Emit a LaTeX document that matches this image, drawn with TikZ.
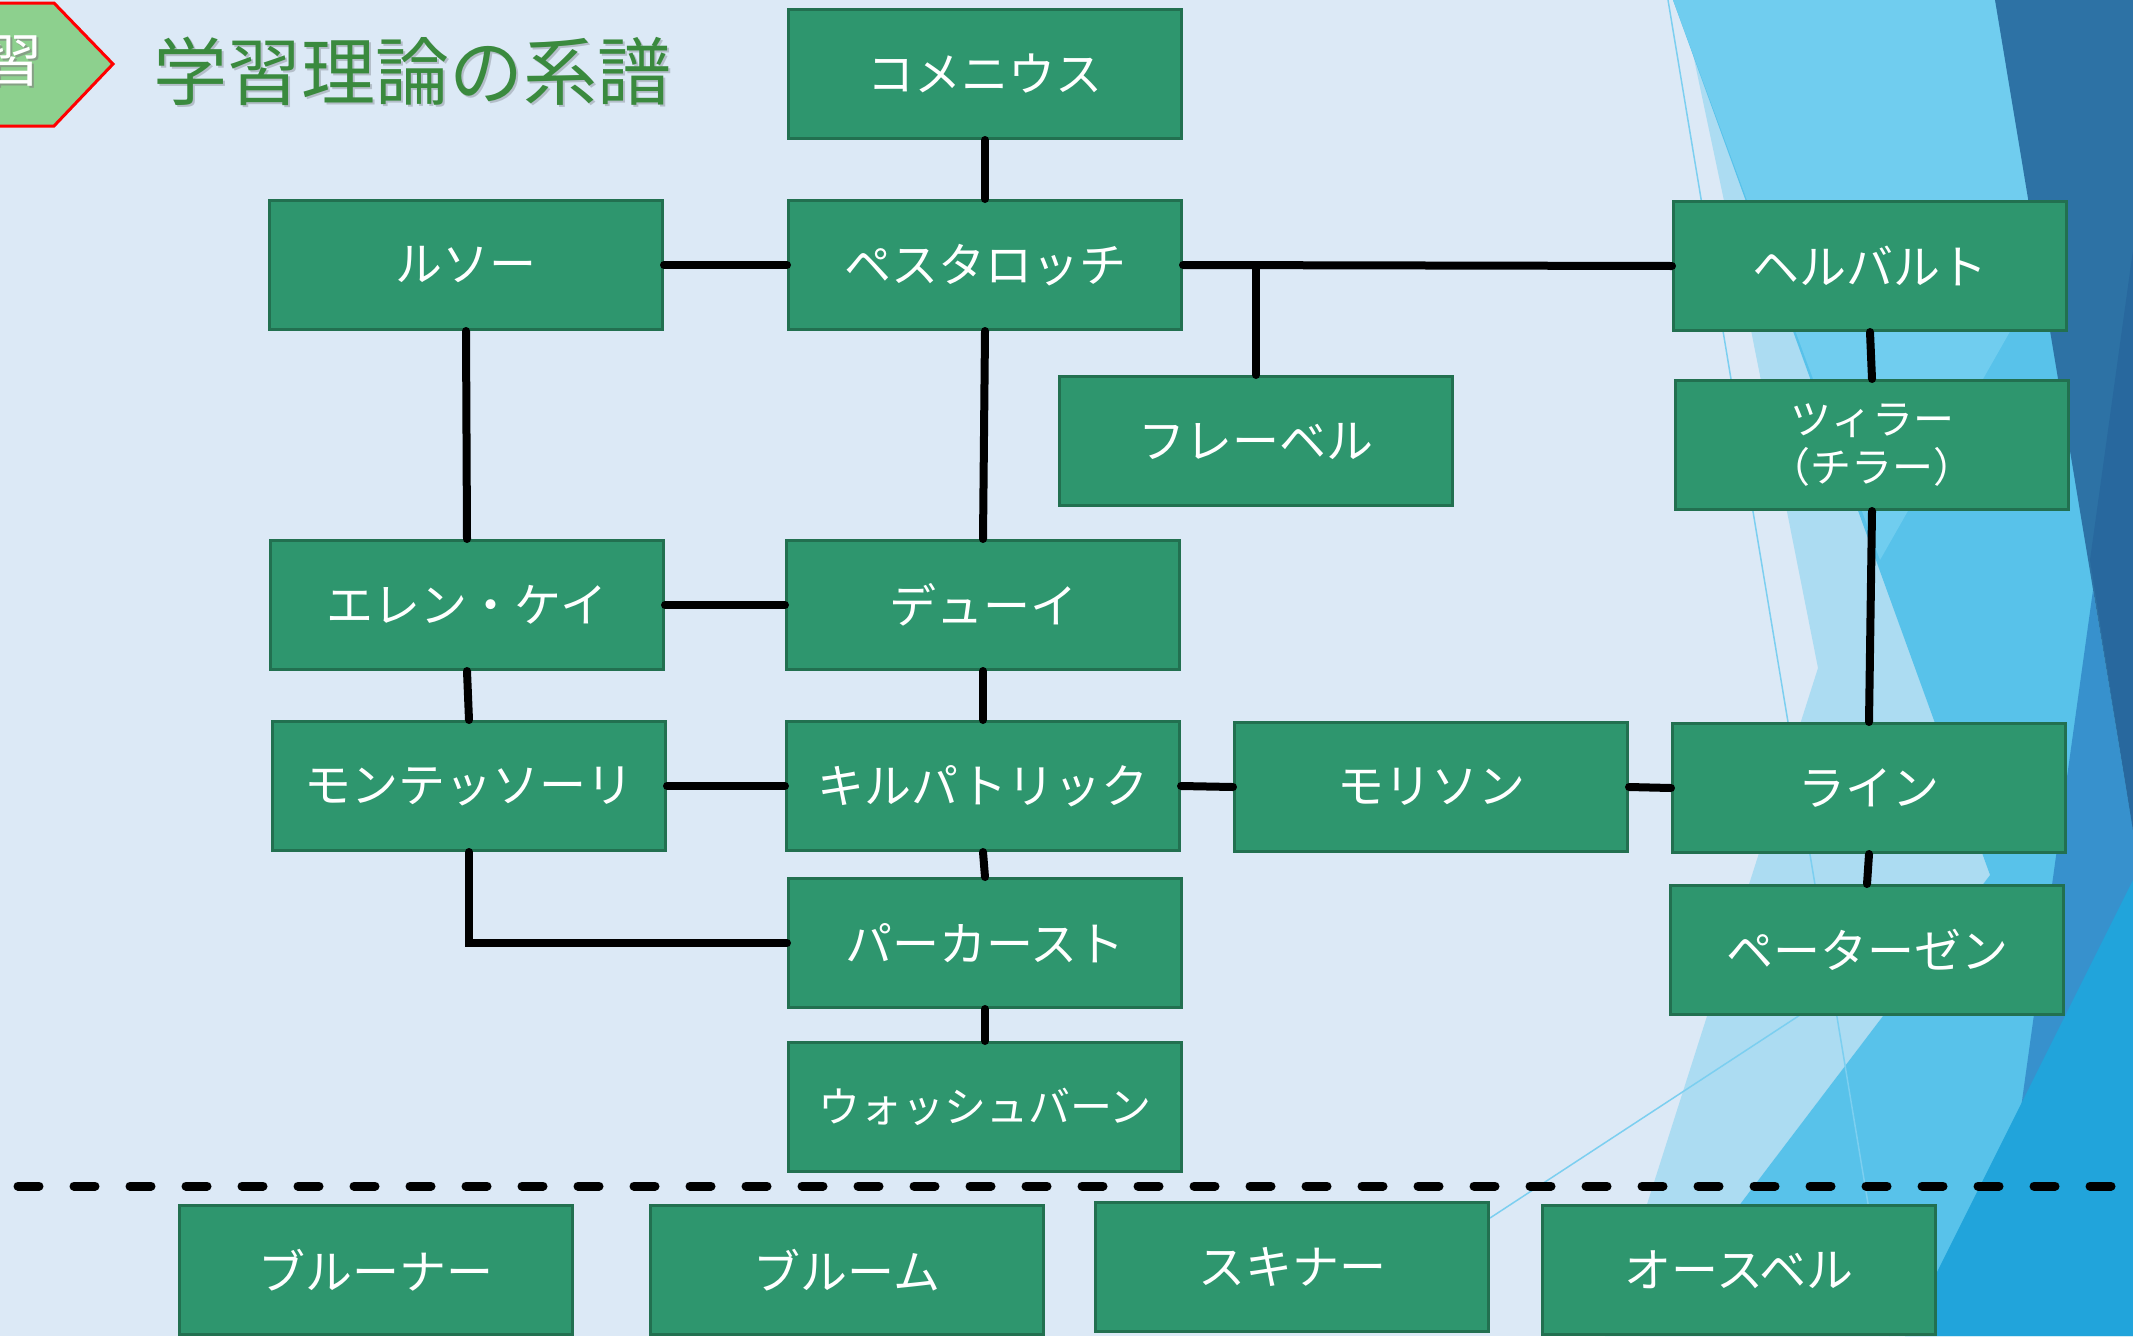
\documentclass[tikz,border=0pt]{standalone}
\usepackage{fontspec}
\newfontfamily\jp{Noto Sans CJK JP}
\definecolor{bgblue}{RGB}{220,233,246}
\definecolor{boxgreen}{RGB}{46,150,110}
\definecolor{boxborder}{RGB}{34,112,80}
\definecolor{titlegreen}{RGB}{58,138,62}
\definecolor{tagfill}{RGB}{141,208,142}
\definecolor{cyanmain}{RGB}{88,194,234}
\definecolor{cyanlight}{RGB}{112,205,239}
\definecolor{paleblue}{RGB}{172,220,242}
\definecolor{darkblue}{RGB}{45,114,165}
\definecolor{darkerblue}{RGB}{40,104,158}
\definecolor{midblue}{RGB}{55,145,205}
\definecolor{brightblue}{RGB}{33,164,219}
\definecolor{thinblue}{RGB}{124,207,240}
\tikzset{
  box/.style={draw=boxborder, line width=3pt, fill=boxgreen, text=white,
    minimum width=393pt, minimum height=129pt, inner sep=0pt, align=center,
    font=\jp\fontsize{47}{56}\selectfont},
  link/.style={line width=8pt, line cap=round, draw=black},
}
\begin{document}
\begin{tikzpicture}[x=1pt,y=-1pt]
\path[use as bounding box] (0,0) rectangle (2133,1336);
\clip (0,0) rectangle (2133,1336);
% background
\fill[bgblue] (0,0) rectangle (2133,1336);
% facets on the right
\fill[paleblue] (1690,40) -- (1990,875) -- (1640,1336) -- (1605,1336) -- (1818,668) -- (1745,300) -- cycle;
\fill[cyanmain] (1673,0) -- (2000,0) -- (2133,820) -- (2133,1336) -- (1640,1336) -- (1990,875) -- cycle;
\fill[cyanlight] (1673,0) -- (2000,0) -- (2045,270) -- (1880,560) -- cycle;
\fill[midblue] (2093,590) -- (2133,830) -- (2133,905) -- (2020,1115) -- cycle;
\fill[brightblue] (2133,880) -- (2133,1336) -- (1905,1336) -- cycle;
\fill[darkblue] (1995,0) -- (2133,0) -- (2133,830) -- cycle;
\fill[darkerblue] (2133,250) -- (2133,830) -- (2090,560) -- cycle;
\draw[thinblue, line width=1.5pt] (1668,0) -- (1890,1336);
\draw[thinblue, line width=1.5pt] (1490,1218) -- (1800,1015);
% tag at top left
\fill[tagfill] (-10,3) -- (54,3) -- (113,64) -- (54,126) -- (-10,126) -- cycle;
\draw[red, line width=3pt] (-10,3) -- (54,3) -- (113,64) -- (54,126) -- (-10,126);
\node[font=\jp\fontsize{58}{66}\selectfont, text=gray, opacity=0.6] at (16,63) {習};
\node[font=\jp\fontsize{58}{66}\selectfont, text=white] (tag) at (14,61) {習};
% title
\node[anchor=west, font=\jp\fontsize{74}{84}\selectfont, text=black, opacity=0.18] at (152,73) {学習理論の系譜};
\node[anchor=west, font=\jp\fontsize{74}{84}\selectfont, text=titlegreen] (title) at (150,71) {学習理論の系譜};
% boxes
\node[box] (kom) at (985,74) {コメニウス};
\node[box] (pes) at (985,265) {ペスタロッチ};
\node[box] (rou) at (466,265) {ルソー};
\node[box] (her) at (1870,266) {ヘルバルト};
\node[box] (fro) at (1256,441) {フレーベル};
\node[box, font=\jp\fontsize{41}{48}\selectfont] (zil) at (1872,445) {ツィラー\\（チラー）};
\node[box] (ell) at (467,605) {エレン・ケイ};
\node[box] (dew) at (983,605) {デューイ};
\node[box] (mon) at (469,786) {モンテッソーリ};
\node[box] (kil) at (983,786) {キルパトリック};
\node[box] (mor) at (1431,787) {モリソン};
\node[box] (rei) at (1869,788) {ライン};
\node[box] (par) at (985,943) {パーカースト};
\node[box] (pet) at (1867,950) {ペーターゼン};
\node[box, font=\jp\fontsize{42}{50}\selectfont] (was) at (985,1107) {ウォッシュバーン};
\node[box] (bru) at (376,1270) {ブルーナー};
\node[box] (blo) at (847,1270) {ブルーム};
\node[box] (ski) at (1292,1267) {スキナー};
\node[box] (aus) at (1739,1270) {オースベル};
% connectors
\draw[link] (kom.south) -- (pes.north);
\draw[link] (rou.east) -- (pes.west);
\draw[link] (pes.east) -- (her.west);
\draw[link] (fro.north |- pes.east) -- (fro.north);
\draw[link] (pes.south) -- (dew.north);
\draw[link] (rou.south) -- (ell.north);
\draw[link] (ell.east) -- (dew.west);
\draw[link] (ell.south) -- (mon.north);
\draw[link] (dew.south) -- (kil.north);
\draw[link] (mon.east) -- (kil.west);
\draw[link] (kil.east) -- (mor.west);
\draw[link] (mor.east) -- (rei.west);
\draw[link] (her.south) -- (zil.north);
\draw[link] (zil.south) -- (rei.north);
\draw[link] (rei.south) -- (pet.north);
\draw[link] (kil.south) -- (par.north);
\draw[link] (mon.south) -- (mon.south |- par.west) -- (par.west);
\draw[link] (par.south) -- (was.north);
% dashed separator
\coordinate (dl) at (18,1186);
\coordinate (dr) at (2133,1186);
\draw[line width=9pt, line cap=round, dash pattern=on 21pt off 35pt] (dl) -- (dr);
\end{tikzpicture}
\end{document}
